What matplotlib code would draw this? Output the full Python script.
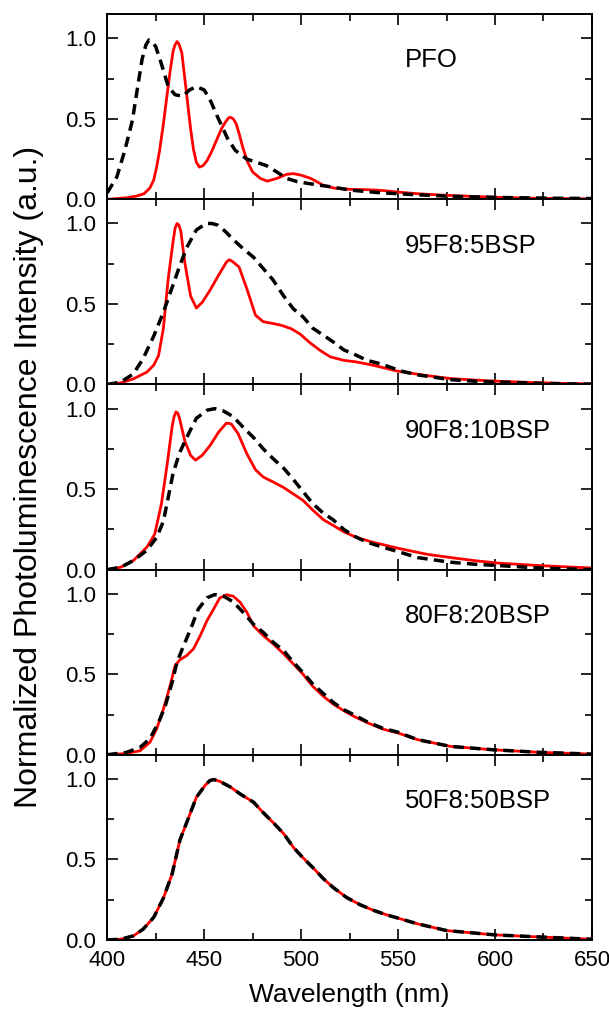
import matplotlib
matplotlib.use("Agg")
import matplotlib.pyplot as plt
from matplotlib.ticker import MultipleLocator

plt.rcParams['font.family'] = ['Liberation Sans', 'DejaVu Sans']

# panel names
labels = ["PFO", "95F8:5BSP", "90F8:10BSP", "80F8:20BSP", "50F8:50BSP"]

# PFO
pfo_wl_dash = [400, 405, 409, 413, 416, 418, 420, 421.5, 423, 425, 428, 431.5, 435, 439, 442.5, 446, 450, 453, 457, 462, 466,
               472, 477, 482, 487.5, 492.5, 498, 503, 510, 517, 525, 534, 542, 550, 560, 575, 590, 610, 630, 650]
pfo_dash = [0.04, 0.14, 0.30, 0.49, 0.72, 0.87, 0.96, 0.99, 0.98, 0.95, 0.84, 0.70, 0.65, 0.64, 0.68, 0.70, 0.68, 0.62, 0.51,
            0.38, 0.305, 0.25, 0.23, 0.21, 0.17, 0.13, 0.11, 0.10, 0.087, 0.075, 0.058, 0.048, 0.04, 0.035, 0.028, 0.02,
            0.015, 0.01, 0.007, 0.005]
pfo_wl_red = [400, 410, 415, 419, 422, 424, 425.5, 427, 429, 431, 432.5, 434, 435, 436, 437, 438.5, 441, 443, 444.5, 446,
              447.6, 449.5, 451.5, 454, 456.5, 459, 461, 462.5, 463.5, 465, 466.5, 468, 470, 472.5, 475, 479, 482.5, 487.5,
              492.5, 496, 500, 505, 511.5, 517, 525, 534, 542, 550, 560, 575, 585, 600, 620, 650]
pfo_red = [0, 0.01, 0.02, 0.035, 0.07, 0.12, 0.20, 0.30, 0.47, 0.66, 0.80, 0.92, 0.96, 0.98, 0.965, 0.91, 0.65, 0.44, 0.31,
           0.23, 0.20, 0.21, 0.24, 0.30, 0.37, 0.44, 0.48, 0.505, 0.51, 0.50, 0.47, 0.41, 0.32, 0.23, 0.17, 0.13, 0.113,
           0.13, 0.155, 0.16, 0.15, 0.13, 0.087, 0.07, 0.062, 0.06, 0.055, 0.045, 0.035, 0.025, 0.02, 0.013, 0.007, 0.003]

# 95F8:5BSP
b5_wl_dash = [400, 407, 413.5, 418.5, 424, 429, 434, 437.5, 441, 446, 451, 454, 457, 461, 465, 470, 475.5, 480.5, 485.5,
              491, 496, 501, 506, 511, 516.5, 522, 527, 534, 542, 551, 560, 577, 590, 602, 620, 635, 650]
b5_dash = [0, 0.015, 0.066, 0.16, 0.30, 0.45, 0.62, 0.74, 0.85, 0.96, 1.0, 1.0, 0.99, 0.95, 0.90, 0.845, 0.79, 0.72, 0.65,
           0.55, 0.47, 0.42, 0.35, 0.31, 0.265, 0.215, 0.19, 0.15, 0.125, 0.085, 0.06, 0.03, 0.02, 0.015, 0.008, 0.004, 0.002]
b5_wl_red = [400, 407, 413.5, 420.5, 424, 426.5, 429, 431.5, 434, 435, 436, 437, 438, 440, 443, 446, 449, 453, 457.5,
             461.5, 463, 464.5, 468, 472, 476.5, 480.5, 485, 490, 495, 499.5, 504.5, 510, 515, 522, 528.5, 537, 550, 565,
             577, 590, 602, 620, 635, 650]
b5_red = [0, 0.01, 0.035, 0.077, 0.12, 0.18, 0.35, 0.66, 0.89, 0.97, 1.0, 0.99, 0.95, 0.76, 0.55, 0.475, 0.51, 0.585, 0.68,
          0.76, 0.775, 0.765, 0.73, 0.595, 0.43, 0.39, 0.38, 0.367, 0.346, 0.313, 0.26, 0.21, 0.172, 0.15, 0.14, 0.12,
          0.082, 0.055, 0.037, 0.027, 0.02, 0.012, 0.007, 0.004]

# 90F8:10BSP
b10_wl_dash = [400, 407, 413.5, 420.5, 425.5, 429, 431.5, 434, 437.5, 442, 446, 451.5, 455.5, 460, 465, 470, 475.5, 480.5,
               485.5, 491, 496, 500, 506, 511.5, 516.5, 522, 527, 534, 542, 551, 560, 577, 590, 602, 623, 650]
b10_dash = [0, 0.015, 0.056, 0.12, 0.20, 0.30, 0.45, 0.60, 0.73, 0.845, 0.94, 0.99, 1.0, 0.985, 0.95, 0.886, 0.82, 0.75,
            0.69, 0.63, 0.56, 0.50, 0.41, 0.35, 0.31, 0.25, 0.21, 0.17, 0.14, 0.108, 0.075, 0.046, 0.033, 0.025, 0.01, 0.0]
b10_wl_red = [400, 407, 413.5, 420.5, 424.5, 428, 431, 433.5, 434.5, 435.5, 436.5, 437.5, 440, 443, 445.5, 449, 453,
              457.5, 461.5, 464, 467.5, 472, 476.5, 480.5, 485.5, 491, 496, 501, 506, 511.5, 516.5, 522, 528.5, 537, 551,
              565, 577, 590, 602, 623, 650]
b10_red = [0, 0.015, 0.056, 0.14, 0.22, 0.41, 0.66, 0.89, 0.95, 0.98, 0.97, 0.93, 0.80, 0.71, 0.68, 0.71, 0.77, 0.855,
           0.91, 0.905, 0.845, 0.72, 0.62, 0.575, 0.545, 0.51, 0.47, 0.43, 0.37, 0.31, 0.275, 0.235, 0.20, 0.17, 0.13,
           0.095, 0.075, 0.055, 0.04, 0.025, 0.01]

# 80F8:20BSP
b20_wl_dash = [400, 410, 417, 422, 426.5, 430, 433.5, 436, 439.5, 443, 447, 451.5, 455.5, 460, 465, 470, 475.5, 480.5,
               485.5, 491, 496, 501, 506, 511.5, 516.5, 522, 527, 534, 542, 550, 560, 577, 599, 623, 650]
b20_dash = [0, 0.015, 0.046, 0.10, 0.20, 0.305, 0.45, 0.575, 0.68, 0.78, 0.905, 0.975, 0.995, 0.985, 0.95, 0.886, 0.81,
            0.76, 0.70, 0.647, 0.575, 0.51, 0.44, 0.38, 0.326, 0.28, 0.25, 0.205, 0.165, 0.14, 0.094, 0.052, 0.031, 0.015, 0.004]
b20_wl_red = [400, 410, 417, 422, 425.5, 429, 432.5, 435, 437.5, 441, 444.5, 448, 451.5, 455, 458, 461.5, 465, 468.5, 472,
              475.5, 480.5, 485.5, 491, 496, 501, 506, 511.5, 516.5, 522, 527, 534, 542, 550, 560, 577, 599, 623, 650]
b20_red = [0, 0.008, 0.025, 0.077, 0.16, 0.284, 0.43, 0.554, 0.59, 0.616, 0.658, 0.74, 0.834, 0.907, 0.973, 0.994, 0.985,
           0.948, 0.886, 0.80, 0.74, 0.69, 0.627, 0.564, 0.50, 0.425, 0.363, 0.315, 0.274, 0.24, 0.20, 0.16, 0.135, 0.094,
           0.052, 0.031, 0.015, 0.004]

# 50F8:50BSP (both curves coincide)
b50_wl = [400, 407, 413.5, 418.5, 424, 429, 433.5, 437.5, 442, 446, 450.5, 453, 455, 458, 463.5, 468.5, 475.5, 480.5,
          485.5, 491, 496, 501, 506, 511.5, 516.5, 523.5, 530.5, 537, 544, 550, 560, 575, 600, 625, 650]
b50_red = [0, 0.004, 0.025, 0.066, 0.14, 0.26, 0.41, 0.62, 0.76, 0.886, 0.96, 0.99, 0.996, 0.985, 0.95, 0.907, 0.855,
           0.79, 0.73, 0.66, 0.575, 0.51, 0.45, 0.38, 0.326, 0.263, 0.218, 0.185, 0.156, 0.135, 0.10, 0.058, 0.031,
           0.017, 0.004]
b50_dash = b50_red

panels = [
    (pfo_wl_red, pfo_red, pfo_wl_dash, pfo_dash),
    (b5_wl_red, b5_red, b5_wl_dash, b5_dash),
    (b10_wl_red, b10_red, b10_wl_dash, b10_dash),
    (b20_wl_red, b20_red, b20_wl_dash, b20_dash),
    (b50_wl, b50_red, b50_wl, b50_dash),
]

fig, axes = plt.subplots(5, 1, figsize=(6.09, 10.15), dpi=100, sharex=True)
fig.subplots_adjust(left=0.176, right=0.972, top=0.986, bottom=0.074, hspace=0)

for i, ax in enumerate(axes):
    wr, r, wd, d = panels[i]
    ax.plot(wr, r, color='red', lw=2.0)
    ax.plot(wd, d, color='black', lw=2.5, dashes=(3.0, 1.8))
    ax.set_xlim(400, 650)
    ax.set_ylim(0, 1.15)
    ax.xaxis.set_major_locator(MultipleLocator(50))
    ax.xaxis.set_minor_locator(MultipleLocator(25))
    ax.yaxis.set_major_locator(MultipleLocator(0.5))
    ax.yaxis.set_minor_locator(MultipleLocator(0.25))
    ax.tick_params(which='both', direction='in', top=True, right=True, width=1.2, labelsize=16)
    ax.tick_params(which='major', length=8)
    ax.tick_params(which='minor', length=5)
    ax.tick_params(axis='y', pad=8)
    ax.tick_params(axis='x', pad=7)
    for s in ax.spines.values():
        s.set_linewidth(1.4)
    ax.text(0.614, 0.75, labels[i], transform=ax.transAxes, fontsize=18.5, ha='left', va='center')

axes[-1].set_xlabel('Wavelength (nm)', fontsize=19, labelpad=9)
fig.text(0.047, 0.53, 'Normalized Photoluminescence Intensity (a.u.)', rotation=90, fontsize=23,
         ha='center', va='center')

plt.savefig('out.png', dpi=100)
